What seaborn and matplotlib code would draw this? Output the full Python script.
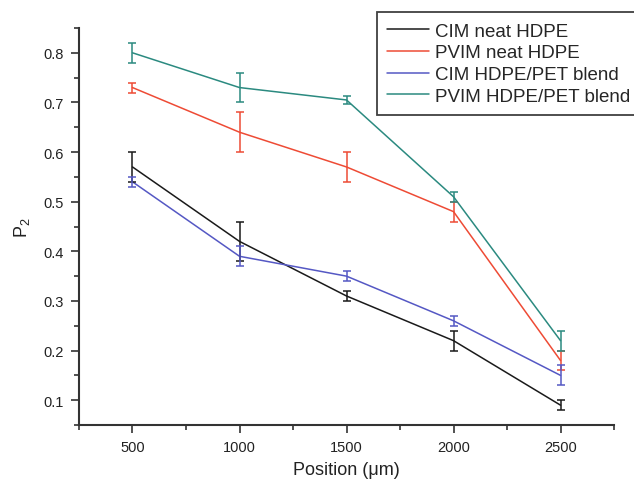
import numpy as np
import pandas as pd
import matplotlib
matplotlib.use('Agg')
import matplotlib.pyplot as plt
import seaborn as sns
from matplotlib.ticker import MultipleLocator

# dados
posicoes = [500, 1000, 1500, 2000, 2500]
series = ['CIM neat HDPE', 'PVIM neat HDPE', 'CIM HDPE/PET blend', 'PVIM HDPE/PET blend']
cim_neat = [0.57, 0.42, 0.31, 0.22, 0.09]
cim_neat_err = [0.03, 0.04, 0.01, 0.02, 0.01]
pvim_neat = [0.73, 0.64, 0.57, 0.48, 0.18]
pvim_neat_err = [0.01, 0.04, 0.03, 0.02, 0.02]
cim_blend = [0.54, 0.39, 0.35, 0.26, 0.15]
cim_blend_err = [0.01, 0.02, 0.01, 0.01, 0.02]
pvim_blend = [0.80, 0.73, 0.705, 0.51, 0.22]
pvim_blend_err = [0.02, 0.03, 0.008, 0.01, 0.02]

cores = ['#1a1a1a', '#ee4b35', '#5558c4', '#2b8a80']

valores = [cim_neat, pvim_neat, cim_blend, pvim_blend]
erros = [cim_neat_err, pvim_neat_err, cim_blend_err, pvim_blend_err]

linhas = []
for nome, v, e in zip(series, valores, erros):
    for x, y, err in zip(posicoes, v, e):
        linhas.append({'pos': x, 'p2': y, 'err': err, 'serie': nome})
df = pd.DataFrame(linhas)

sns.set_theme(style='ticks')
plt.rcParams['font.family'] = ['Liberation Sans', 'DejaVu Sans']

fig = plt.figure(figsize=(6.34, 4.85), dpi=100)
ax = fig.add_axes([0.1246, 0.1216, 0.8439, 0.8186])

sns.lineplot(data=df, x='pos', y='p2', hue='serie', hue_order=series,
             palette=cores, linewidth=1.1, ax=ax)

for nome, cor in zip(series, cores):
    sub = df[df['serie'] == nome]
    ax.errorbar(sub['pos'], sub['p2'], yerr=sub['err'], fmt='none',
                ecolor=cor, elinewidth=1.1, capsize=3, capthick=1.1)

ax.set_xlim(250, 2750)
ax.set_ylim(0.05, 0.85)
ax.xaxis.set_major_locator(MultipleLocator(500))
ax.xaxis.set_minor_locator(MultipleLocator(250))
ax.yaxis.set_major_locator(MultipleLocator(0.1))
ax.yaxis.set_minor_locator(MultipleLocator(0.05))
ax.set_yticks([0.1, 0.2, 0.3, 0.4, 0.5, 0.6, 0.7, 0.8])

ax.tick_params(which='major', direction='out', length=6, width=1.2,
               color='#333333', labelsize=10.5, labelcolor='#222222', pad=5)
ax.tick_params(which='minor', direction='out', length=3.5, width=1.2, color='#333333')

for lado in ['left', 'bottom']:
    ax.spines[lado].set_linewidth(1.5)
    ax.spines[lado].set_color('#333333')
sns.despine(ax=ax, top=True, right=True)

ax.set_xlabel('Position (\u03bcm)', fontsize=13, color='#222222', labelpad=5)
ax.set_ylabel(r'$\mathregular{P_2}$', fontsize=13, color='#222222', labelpad=8)

leg = ax.legend(loc='upper left', bbox_to_anchor=(0.557, 1.04), borderaxespad=0,
                fontsize=13.5, frameon=True, fancybox=False, edgecolor='#111111',
                handlelength=2.2, handletextpad=0.32, labelspacing=0.25,
                borderpad=0.55, title=None)
leg.get_frame().set_linewidth(1.3)
for l in leg.get_lines():
    l.set_linewidth(1.1)

fig.savefig('out.png', dpi=100)
